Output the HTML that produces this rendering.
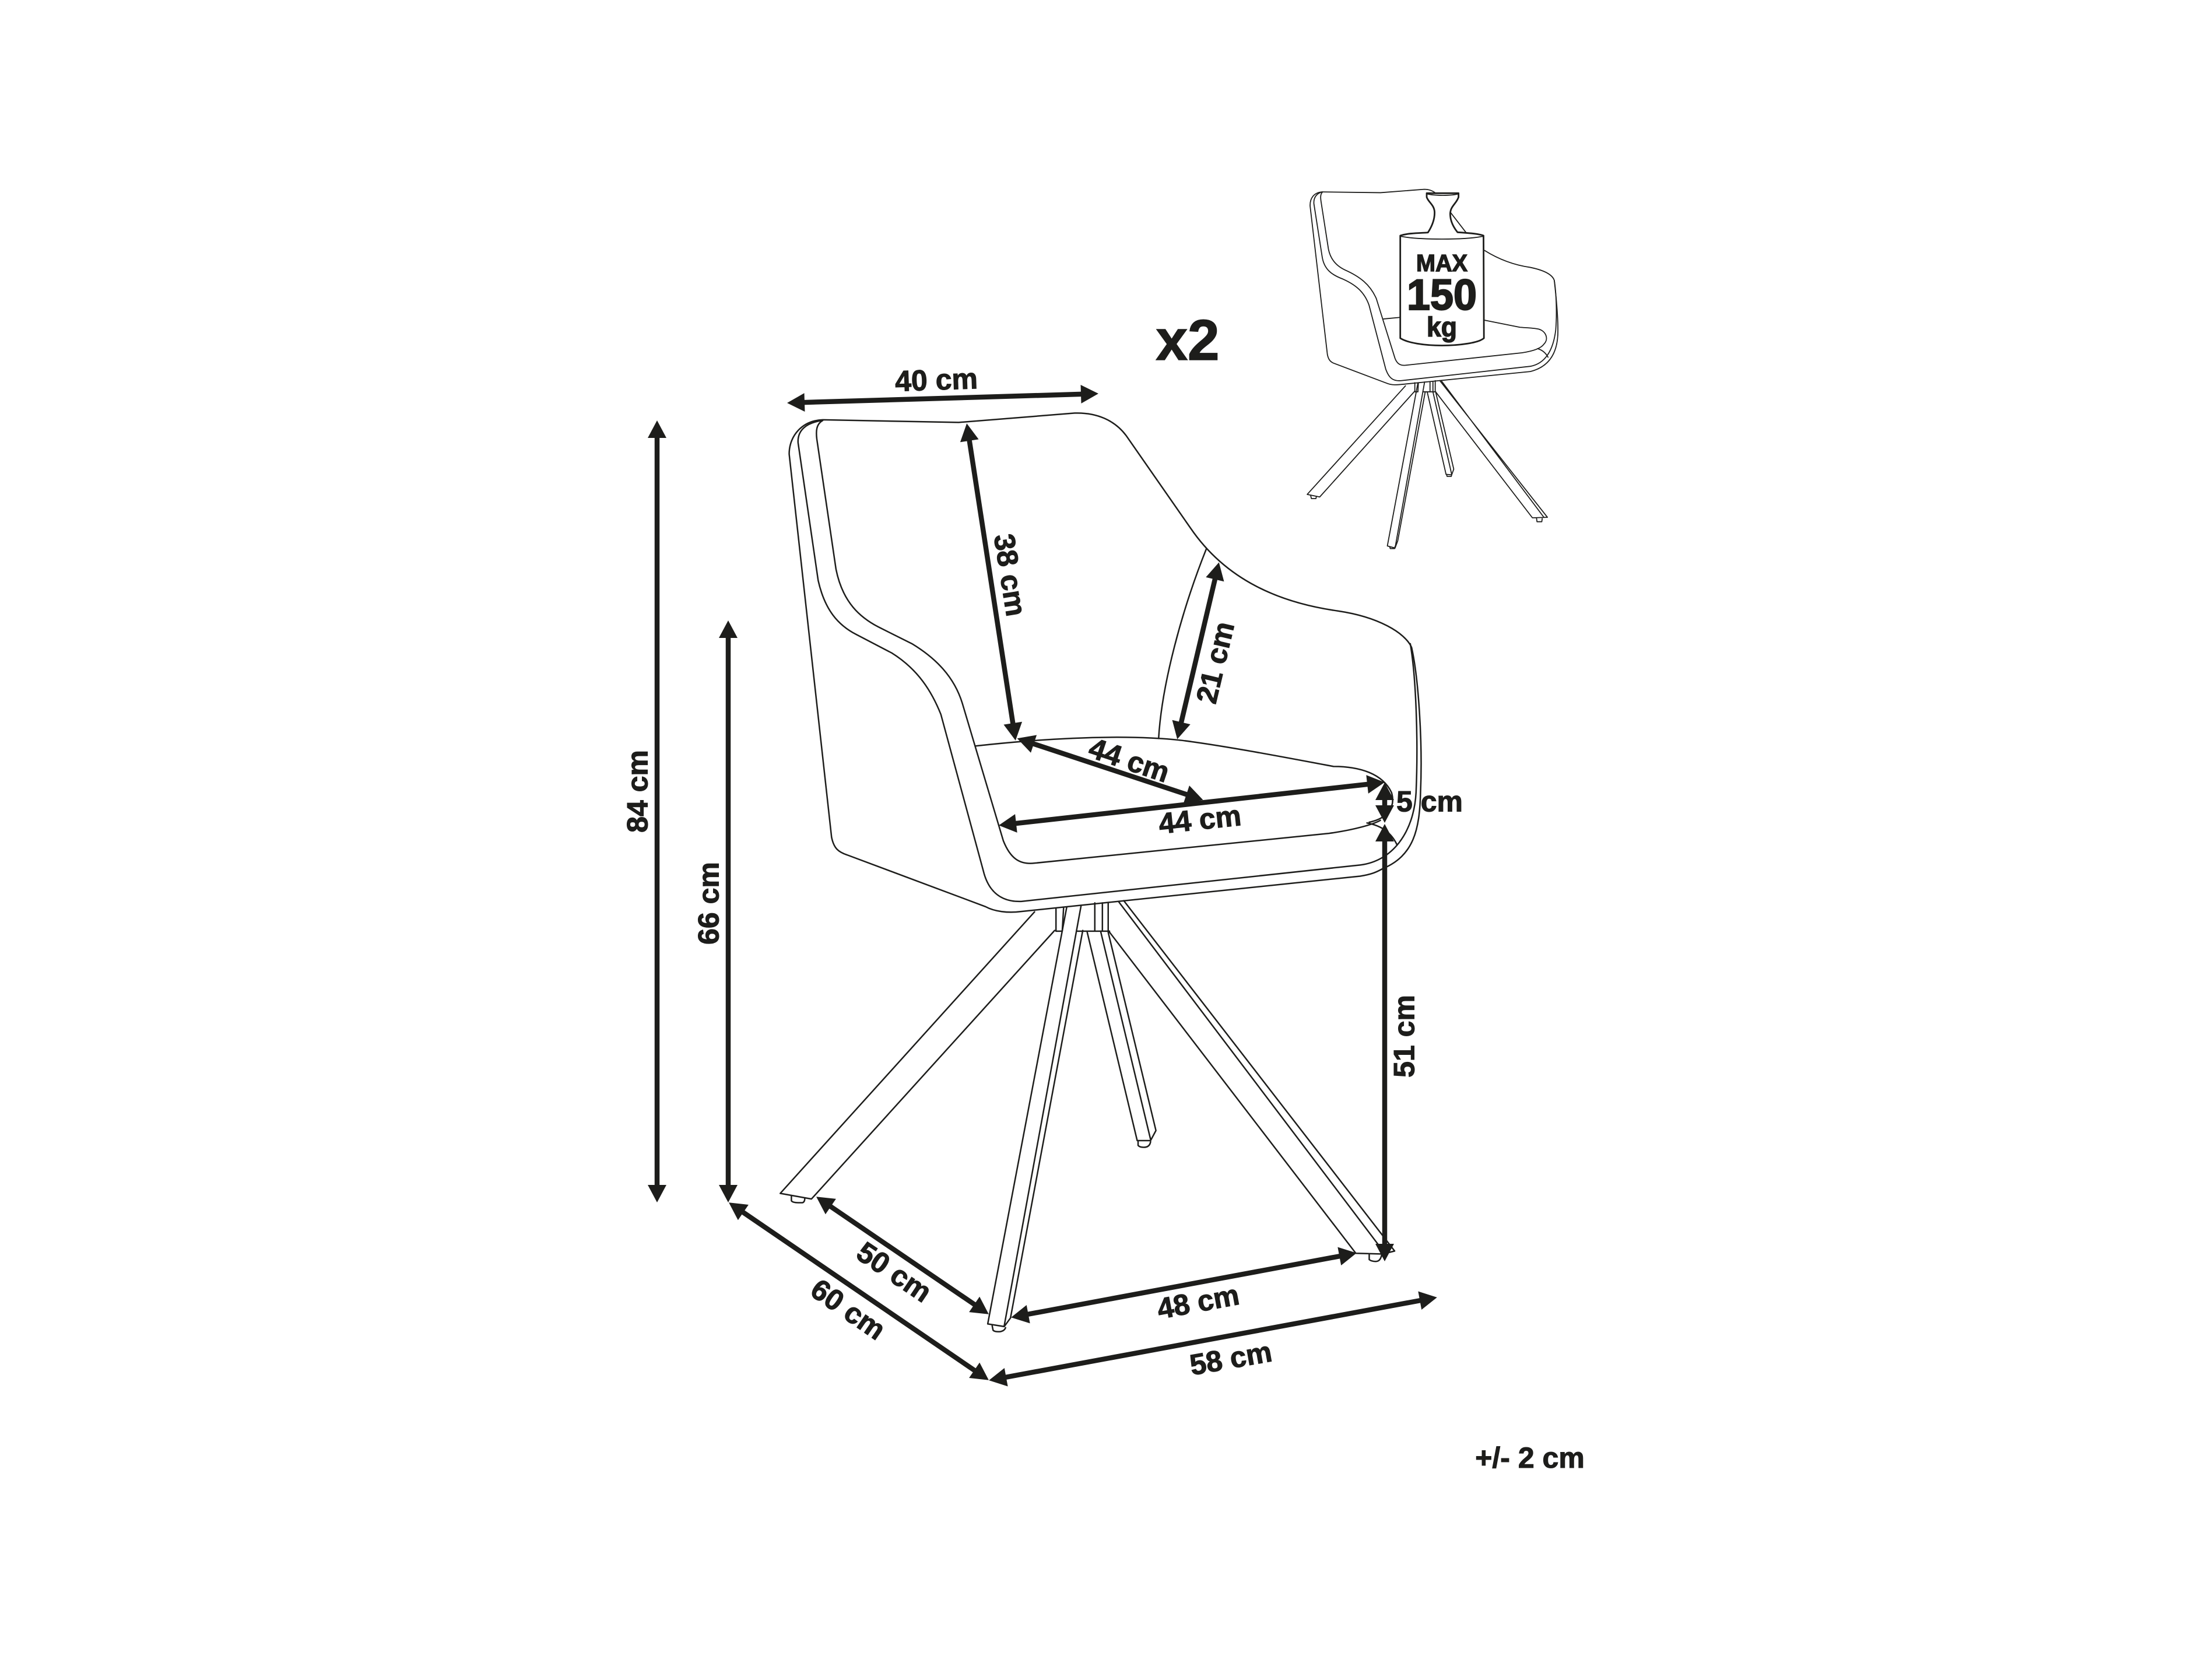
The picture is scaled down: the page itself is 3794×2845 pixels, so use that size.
<!DOCTYPE html>
<html><head><meta charset="utf-8"><style>
html,body{margin:0;padding:0;background:#fff}
svg{display:block}
.l path,.l line{fill:none;stroke:#1d1d1b;stroke-width:2.5;vector-effect:non-scaling-stroke;stroke-linejoin:round;stroke-linecap:round}
.s path{stroke-width:1.8}
.a line{stroke:#1d1d1b;stroke-width:8.5;marker-start:url(#h);marker-end:url(#h)}
text{font-family:"Liberation Sans",sans-serif;font-weight:700;fill:#1d1d1b;font-size:50px;text-anchor:middle;stroke:#1d1d1b;stroke-width:1.1}
</style></head><body>
<svg xmlns="http://www.w3.org/2000/svg" width="3794" height="2845" viewBox="0 0 3794 2845">
<defs><marker id="h" markerUnits="userSpaceOnUse" markerWidth="30" markerHeight="32" refX="18" refY="16" orient="auto-start-reverse" overflow="visible"><path d="M0 0L30 16L0 32Z" fill="#1d1d1b"/></marker></defs>
<rect width="3794" height="2845" fill="#fff"/>

<!-- main chair -->
<g class="l" transform="translate(1300,600) scale(.7653,.6378)">
<path d="M145 188L450 195L710 170C760 168 800 190 825 230L970 480C1050 620 1170 680 1300 702C1390 718 1450 760 1465 800C1480 880 1490 1050 1485 1190C1483 1290 1470 1360 1400 1395C1385 1405 1375 1410 1350 1415L590 1510C560 1515 530 1510 510 1497L200 1358C180 1350 170 1340 165 1310L70 280C70 230 100 190 145 188Z"/>
<path d="M145 190C110 195 88 215 90 250L135 620C150 700 180 740 220 765L300 815C360 860 390 920 410 980L505 1400C515 1450 540 1485 590 1483L1350 1385C1420 1375 1470 1300 1475 1190C1480 1050 1475 880 1462 790"/>
<path d="M145 190C130 200 130 220 132 240L175 590C190 680 230 720 270 745L345 790C400 830 440 880 458 950L550 1320C565 1365 585 1385 620 1380L1280 1300C1340 1290 1380 1275 1395 1265"/>
<path d="M488 1065C600 1050 800 1030 950 1050C1050 1065 1200 1100 1290 1120C1350 1120 1400 1140 1420 1190C1430 1230 1410 1260 1370 1270"/>
<path d="M1365 1272C1400 1280 1420 1300 1432 1330"/>
<path d="M1005 535C950 700 905 900 898 1045"/>
<!-- legs (crop 2 coordinates) -->
<g transform="translate(0,1411)">
<path d="M620 100L50 857L120 872L665 150"/>
<path d="M75 865L75 877Q78 882 90 882L100 882Q105 880 105 870"/>
<path d="M668 92L668 152L682 152M685 90L682 152"/>
<path d="M692 88L515 1208L552 1215L566 1192L728 150M724 85L552 1213"/>
<path d="M525 1213L527 1225Q530 1229 540 1229Q552 1228 555 1218"/>
<path d="M716 152L788 152M755 76L755 152M772 76L772 152M785 75L785 152"/>
<path d="M738 155L850 715L880 715L892 688L785 155M768 152L880 712"/>
<path d="M852 718L852 728Q855 733 865 733Q878 733 880 718"/>
<path d="M785 150L1340 1018L1400 1020L1427 1012L820 70M808 72L1405 1018"/>
<path d="M1370 1022L1370 1035Q1375 1040 1385 1040Q1395 1040 1398 1022"/>
</g>
</g>

<!-- small chair -->
<g class="l s" transform="translate(2200,280) scale(.357,.4464)">
<path d="M190 110L470 113L680 100C700 100 720 105 735 115L880 265"/>
<path d="M970 335C1030 365 1100 390 1190 400C1250 410 1295 425 1305 450C1315 520 1325 600 1322 660C1318 720 1290 780 1190 800L590 848C560 850 530 855 500 845L245 768C230 763 220 755 215 735L132 165C130 135 150 112 190 110"/>
<path d="M190 110C165 115 148 130 150 155L190 360C200 410 240 430 290 445C360 470 395 500 415 545L495 790C510 825 530 838 570 835L1190 780C1260 770 1300 720 1312 640C1318 580 1315 500 1305 450"/>
<path d="M190 112C180 120 182 135 185 150L220 330C230 370 260 395 300 410C370 435 420 465 450 520L540 750C550 770 565 778 590 776L1150 728C1200 722 1240 712 1255 695C1280 675 1265 645 1230 637C1200 632 1170 632 1140 630L970 603"/>
<path d="M485 598L565 592M1225 712C1250 718 1265 730 1275 745"/>
<path d="M590 855L118 1272L178 1282L635 875M135 1278L138 1288L160 1288L162 1280"/>
<path d="M635 843L635 878L650 878M652 843L650 878"/>
<path d="M650 843L503 1470L540 1478L553 1450L685 878M682 840L540 1478M515 1475L517 1480L538 1480L540 1472"/>
<path d="M673 878L735 878M708 840L708 878M722 840L722 878M733 835L733 878"/>
<path d="M695 880L785 1195L812 1197L822 1175L735 878M722 878L812 1195M788 1197L790 1203L810 1203L812 1197"/>
<path d="M735 878L1200 1362L1272 1360L755 835M762 835L1255 1360M1220 1365L1222 1377L1245 1377L1247 1365"/>
<path style="fill:#fff;stroke-width:2.8" d="M565 278C600 268 660 268 698 266C715 245 730 220 730 190C730 160 700 150 692 130L692 115L845 115L845 130C835 155 805 165 805 195C805 220 820 245 840 265C880 267 940 270 965 278L967 672C940 690 850 700 765 700C680 700 600 690 565 672Z"/>
<path d="M565 280C650 295 880 295 965 280M695 118C730 125 810 125 843 118"/>
</g>
<text x="2473" y="465" style="font-size:41px;stroke-width:1.5" textLength="88" lengthAdjust="spacingAndGlyphs">MAX</text>
<text x="2473" y="531" style="font-size:74px;stroke-width:2.2" textLength="120" lengthAdjust="spacingAndGlyphs">150</text>
<text x="2473" y="577" style="font-size:47px;stroke-width:1.5" textLength="52" lengthAdjust="spacingAndGlyphs">kg</text>

<!-- arrows -->
<g class="a">
<line x1="1362" y1="690.6" x2="1872" y2="675.4"/>
<line x1="1660" y1="738" x2="1740" y2="1258"/>
<line x1="2088" y1="976" x2="2022" y2="1256"/>
<line x1="1756" y1="1270" x2="2052" y2="1368"/>
<line x1="1725" y1="1414" x2="2363" y2="1343"/>
<line x1="2375" y1="1354" x2="2375" y2="1399"/>
<line x1="2375" y1="1425" x2="2375" y2="2151"/>
<line x1="1410" y1="2059" x2="1686" y2="2247"/>
<line x1="1260" y1="2069" x2="1686" y2="2360"/>
<line x1="1708" y1="2365" x2="2453" y2="2227"/>
<line x1="1746" y1="2257" x2="2315" y2="2151"/>
<line x1="1127" y1="733" x2="1127" y2="2050"/>
<line x1="1249" y1="1076" x2="1249" y2="2050"/>
</g>

<!-- labels -->
<text dy=".35em" transform="translate(1606,651) rotate(-2)">40 cm</text>
<text dy=".35em" transform="translate(1733,986) rotate(81)">38 cm</text>
<text dy=".35em" transform="translate(2084,1136) rotate(-76.7)">21 cm</text>
<text dy=".35em" transform="translate(1937,1303) rotate(18.7)">44 cm</text>
<text dy=".35em" transform="translate(2058,1405) rotate(-6)">44 cm</text>
<text dy=".35em" transform="translate(2452,1374)">5 cm</text>
<text dy=".35em" transform="translate(2408,1777) rotate(-90)">51 cm</text>
<text dy=".35em" transform="translate(1534,2181) rotate(34)">50 cm</text>
<text dy=".35em" transform="translate(1455,2245) rotate(34.6)">60 cm</text>
<text dy=".35em" transform="translate(2055,2232) rotate(-10.5)">48 cm</text>
<text dy=".35em" transform="translate(2111,2329) rotate(-10)">58 cm</text>
<text dy=".35em" transform="translate(1093,1357) rotate(-90)">84 cm</text>
<text dy=".35em" transform="translate(1215,1549) rotate(-90)">66 cm</text>
<text x="2624" y="2517">+/- 2 cm</text>
<text x="2037" y="617" style="font-size:98px;stroke-width:1.5">x2</text>
</svg>
</body></html>
